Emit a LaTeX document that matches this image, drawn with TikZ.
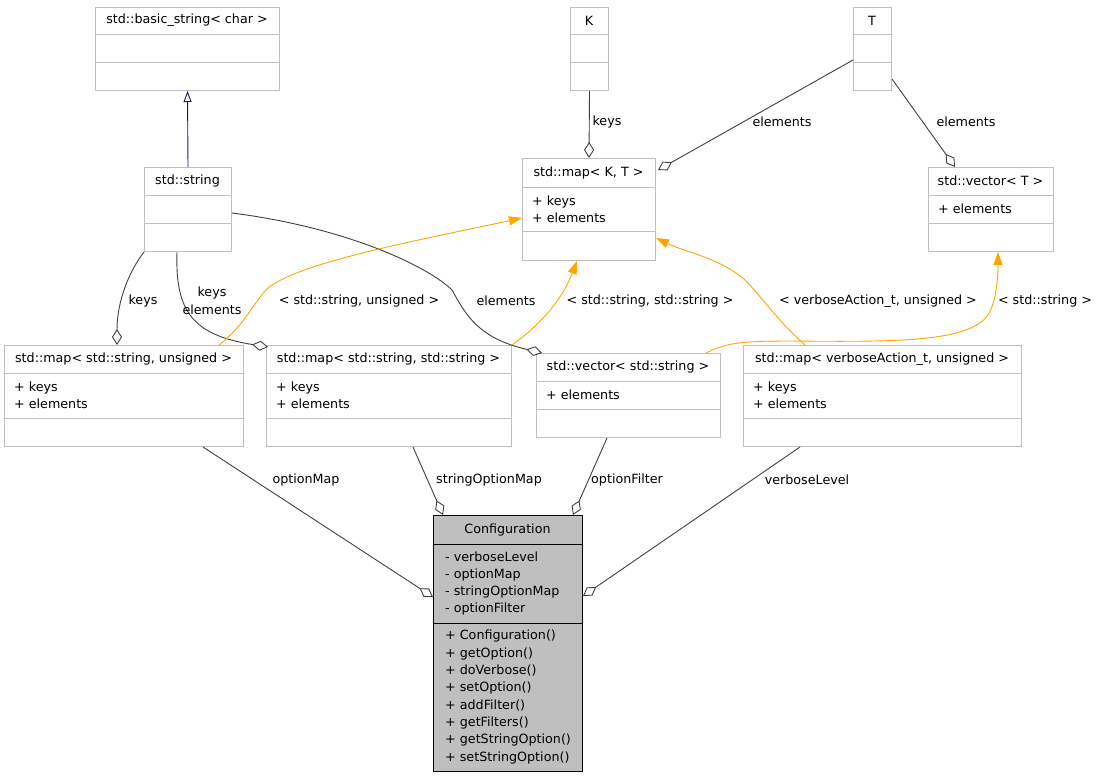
\documentclass[tikz,border=0pt]{standalone}
\usepackage{fontspec}
\setmainfont{DejaVu Sans}
\usetikzlibrary{arrows.meta,calc}
\definecolor{edgegray}{HTML}{404040}
\definecolor{boxgray}{HTML}{BFBFBF}
\definecolor{confgray}{HTML}{BFBFBF}
\definecolor{orangeedge}{HTML}{FFA500}
\definecolor{navyedge}{HTML}{191970}
\tikzset{
  classbox/.style={draw=boxgray, line width=1pt, fill=white, rectangle, inner sep=0pt},
  boxline/.style={draw=boxgray, line width=1pt},
  titletext/.style={inner sep=0pt, font=\fontsize{12.7}{14}\selectfont},
  membertext/.style={inner sep=0pt, align=left, font=\fontsize{12.7}{17}\selectfont},
  lbl/.style={inner sep=0pt, align=center, font=\fontsize{12.7}{18}\selectfont},
  agg/.style={draw=edgegray, line width=0.9pt, -{Diamond[open, length=16pt, width=10pt, line width=0.9pt]}},
  tmpl/.style={draw=orangeedge, line width=0.9pt, -{Triangle[length=13pt, width=9pt]}, },
  inh/.style={draw=navyedge, line width=0.9pt, -{Triangle[open, length=11pt, width=8pt, line width=0.9pt]}},
}
\newcommand{\umlclass}[9]{%
  \node[classbox, minimum width=#4, minimum height=#5+#6+#7, anchor=north west] (#1) at (#2,#3) {};
  \draw[boxline] (#2,#3+#5) -- ++(#4,0);
  \draw[boxline] (#2,#3+#5+#6) -- ++(#4,0);
  \node[titletext] (#1-t) at (#2+#4/2,#3+#5/2) {#8};
  \node[membertext, anchor=west] (#1-a) at (#2+10,#3+#5+#6/2) {#9};
}
\begin{document}
\begin{tikzpicture}[x=1pt,y=-1pt]
\useasboundingbox (0,0) rectangle (1099,779);
% classes
\umlclass{bs}{95}{7}{184}{27}{28}{28}{std::basic\_string< char >}{}
\umlclass{K}{570}{7}{38}{27}{28}{28}{K}{}
\umlclass{T}{853}{7}{38}{27}{28}{28}{T}{}
\umlclass{mkt}{522}{158}{133}{29}{44}{29}{std::map< K, T >}{+ keys\\+ elements}
\umlclass{vt}{928}{167}{125}{28}{28}{28}{std::vector< T >}{+ elements}
\umlclass{str}{144}{167}{87}{28}{28}{28}{std::string}{}
\umlclass{msu}{4}{345}{239}{28}{45}{28}{std::map< std::string, unsigned >}{+ keys\\+ elements}
\umlclass{mss}{266}{345}{245}{28}{45}{28}{std::map< std::string, std::string >}{+ keys\\+ elements}
\umlclass{vs}{536}{353}{184}{28}{28}{28}{std::vector< std::string >}{+ elements}
\umlclass{mvu}{743}{345}{278}{28}{45}{28}{std::map< verboseAction\_t, unsigned >}{+ keys\\+ elements}
% Configuration
\node[draw=black, fill=confgray, line width=1pt, inner sep=0pt, minimum width=149, minimum height=256, anchor=north west] (conf) at (433,515) {};
\draw[black, line width=1pt] (433,544) -- ++(149,0);
\draw[black, line width=1pt] (433,623) -- ++(149,0);
\node[titletext] (conf-t) at (507.5,529.5) {Configuration};
\node[membertext, anchor=west] (conf-a) at (445,583.5) {- verboseLevel\\- optionMap\\- stringOptionMap\\- optionFilter};
\node[membertext, anchor=west, font=\fontsize{12.7}{17.3}\selectfont] (conf-m) at (445,697) {+ Configuration()\\+ getOption()\\+ doVerbose()\\+ setOption()\\+ addFilter()\\+ getFilters()\\+ getStringOption()\\+ setStringOption()};
% inheritance
\draw[inh] (str.north) -- (bs.south);
% K, T
\draw[agg] (K.south) -- ($(mkt.north west)+(67,0)$);
\node[lbl] (l1) at (607,122) {keys};
\draw[agg] ($(T.north west)+(0,53)$) -- ($(mkt.north east)+(2,12)$);
\node[lbl] (l2) at (782,122) {elements};
\draw[agg] ($(T.south east)+(0,-12)$) -- ($(vt.north west)+(27,0)$);
\node[lbl] (l3) at (966,122) {elements};
% std::string usages
\draw[agg] (str.south west) .. controls +(-14,18) and +(0,-45) .. ($(msu.north west)+(113,0)$);
\node[lbl] (l4) at (143,301) {keys};
\draw[agg] ($(str.south west)+(33,0)$) .. controls +(-2,60) and +(-75,-12) .. ($(mss.north west)+(2,2)$);
\node[lbl] (l5) at (212,301) {keys\\elements};
\draw[agg] ($(str.north east)+(0,46)$) .. controls (350,228) and (430,268) .. (452,290) .. controls (466,315) and (478,338) .. ($(vs.north west)+(6,0)$);
\node[lbl] (l6) at (506,301) {elements};
% template instantiations
\draw[tmpl] ($(msu.north west)+(215,0)$) .. controls (245,325) and (255,300) .. (268,288) .. controls (300,262) and (420,240) .. ($(mkt.north west)+(0,60)$);
\node[lbl] (l7) at (359,301) {< std::string, unsigned >};
\draw[tmpl] (mss.north east) .. controls (540,325) and (562,300) .. ($(mkt.south west)+(55,0)$);
\node[lbl] (l8) at (650,301) {< std::string, std::string >};
\draw[tmpl] ($(mvu.north west)+(62,0)$) .. controls (775,318) and (762,297) .. (745,280) .. controls (720,258) and (685,252) .. ($(mkt.south east)+(0,-23)$);
\node[lbl] (l9) at (878,301) {< verboseAction\_t, unsigned >};
\draw[tmpl] ($(vs.north east)+(-15,0)$) .. controls (725,344) and (735,341) .. (790,341) .. controls (900,342) and (968,342) .. (988,315) .. controls (997,300) and (998,275) .. ($(vt.south west)+(70,0)$);
\node[lbl] (l10) at (1045,301) {< std::string >};
% members of Configuration
\draw[agg] ($(msu.south west)+(199,0)$) -- ($(conf.north west)+(0,82)$);
\node[lbl] (l11) at (306,480) {optionMap};
\draw[agg] ($(mss.south west)+(147,0)$) -- ($(conf.north west)+(10,0)$);
\node[lbl] (l12) at (489,480) {stringOptionMap};
\draw[agg] ($(vs.south west)+(71,0)$) -- ($(conf.north east)+(-10,0)$);
\node[lbl] (l13) at (627,480) {optionFilter};
\draw[agg] ($(mvu.south west)+(57,0)$) -- ($(conf.north east)+(0,81)$);
\node[lbl] (l14) at (807,480) {verboseLevel};
\end{tikzpicture}
\end{document}
